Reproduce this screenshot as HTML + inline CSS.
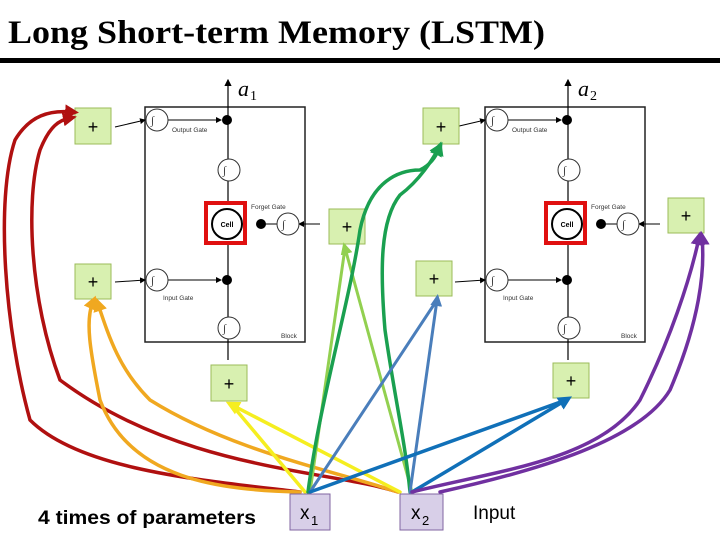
<!DOCTYPE html>
<html><head><meta charset="utf-8"><style>
body{margin:0;background:#fff}
svg{display:block}
</style></head><body>
<svg width="720" height="540" viewBox="0 0 720 540" xmlns="http://www.w3.org/2000/svg">
<defs>
<marker id="ah" markerWidth="6" markerHeight="6" refX="5" refY="3" orient="auto"><path d="M0,0 L6,3 L0,6 z" fill="#000"/></marker>
<marker id="mr" markerWidth="4" markerHeight="4" refX="2" refY="2" orient="auto"><path d="M0,0 L4,2 L0,4 z" fill="#b01010"/></marker>
<marker id="mo" markerWidth="4" markerHeight="4" refX="2" refY="2" orient="auto"><path d="M0,0 L4,2 L0,4 z" fill="#f0a820"/></marker>
<marker id="my" markerWidth="4" markerHeight="4" refX="2" refY="2" orient="auto"><path d="M0,0 L4,2 L0,4 z" fill="#f5ee20"/></marker>
<marker id="mg" markerWidth="4" markerHeight="4" refX="2" refY="2" orient="auto"><path d="M0,0 L4,2 L0,4 z" fill="#1aa050"/></marker>
<marker id="mb" markerWidth="4" markerHeight="4" refX="2" refY="2" orient="auto"><path d="M0,0 L4,2 L0,4 z" fill="#1070b8"/></marker>
<marker id="ms" markerWidth="4" markerHeight="4" refX="2" refY="2" orient="auto"><path d="M0,0 L4,2 L0,4 z" fill="#4a7ebb"/></marker>
<marker id="ml" markerWidth="4" markerHeight="4" refX="2" refY="2" orient="auto"><path d="M0,0 L4,2 L0,4 z" fill="#92d050"/></marker>
<marker id="mp" markerWidth="4" markerHeight="4" refX="2" refY="2" orient="auto"><path d="M0,0 L4,2 L0,4 z" fill="#7030a0"/></marker>
<g id="blk">
  <rect x="145" y="107" width="160" height="235" fill="#fff" stroke="#222" stroke-width="1.5"/>
  <line x1="228" y1="360" x2="228" y2="80" stroke="#000" stroke-width="1.2" marker-end="url(#ah)"/>
  <line x1="168" y1="120" x2="221" y2="120" stroke="#000" stroke-width="1" marker-end="url(#ah)"/>
  <line x1="168" y1="280" x2="221" y2="280" stroke="#000" stroke-width="1" marker-end="url(#ah)"/>
  <line x1="115" y1="127" x2="145" y2="120" stroke="#000" stroke-width="1" marker-end="url(#ah)"/>
  <line x1="115" y1="282" x2="145" y2="280" stroke="#000" stroke-width="1" marker-end="url(#ah)"/>
  <line x1="320" y1="224" x2="299" y2="224" stroke="#000" stroke-width="1" marker-end="url(#ah)"/>
  <line x1="277" y1="224" x2="265" y2="224" stroke="#000" stroke-width="1"/>
  <circle cx="157" cy="120" r="11" fill="#fff" stroke="#333"/>
  <circle cx="157" cy="280" r="11" fill="#fff" stroke="#333"/>
  <circle cx="229" cy="170" r="11" fill="#fff" stroke="#333"/>
  <circle cx="229" cy="328" r="11" fill="#fff" stroke="#333"/>
  <circle cx="288" cy="224" r="11" fill="#fff" stroke="#333"/>
  <circle cx="227" cy="120" r="5" fill="#000"/>
  <circle cx="227" cy="280" r="5" fill="#000"/>
  <circle cx="261" cy="224" r="5" fill="#000"/>
  <rect x="206" y="203" width="39" height="40" fill="#fff" stroke="#e01010" stroke-width="4"/>
  <circle cx="227" cy="224" r="15" fill="#fff" stroke="#000" stroke-width="2"/>
  <text x="227" y="227" font-family="Liberation Sans,sans-serif" font-size="7" font-weight="bold" text-anchor="middle">Cell</text>
  <text x="172" y="132" font-family="Liberation Sans,sans-serif" font-size="6.5" fill="#333">Output Gate</text>
  <text x="163" y="300" font-family="Liberation Sans,sans-serif" font-size="6.5" fill="#333">Input Gate</text>
  <text x="251" y="209" font-family="Liberation Sans,sans-serif" font-size="6.5" fill="#333">Forget Gate</text>
  <text x="281" y="338" font-family="Liberation Sans,sans-serif" font-size="6.5" fill="#333">Block</text>
  <g font-family="Liberation Serif,serif" font-style="italic" font-size="11" fill="#333">
    <text x="151" y="124">∫</text><text x="151" y="284">∫</text><text x="223" y="174">∫</text><text x="223" y="332">∫</text><text x="282" y="228">∫</text>
  </g>
</g>
</defs>
<text x="8" y="43" font-family="Liberation Serif,serif" font-weight="bold" font-size="33" textLength="537" lengthAdjust="spacingAndGlyphs">Long Short-term Memory (LSTM)</text>
<rect x="0" y="58" width="720" height="5" fill="#000"/>
<use href="#blk"/>
<use href="#blk" transform="translate(340,0)"/>
<text x="238" y="96" font-family="Liberation Serif,serif" font-style="italic" font-size="22">a</text><text x="250" y="100" font-family="Liberation Serif,serif" font-size="14">1</text>
<text x="578" y="96" font-family="Liberation Serif,serif" font-style="italic" font-size="22">a</text><text x="590" y="100" font-family="Liberation Serif,serif" font-size="14">2</text>
<g fill="#d8f0b0" stroke="#9bbb59" stroke-width="1">
<rect x="75" y="108" width="36" height="36"/><rect x="423" y="108" width="36" height="36"/>
<rect x="329" y="209" width="36" height="35"/><rect x="668" y="198" width="36" height="35"/>
<rect x="75" y="264" width="36" height="35"/><rect x="416" y="261" width="36" height="35"/>
<rect x="211" y="365" width="36" height="36"/><rect x="553" y="363" width="36" height="35"/>
</g>
<g font-family="Liberation Sans,sans-serif" font-size="18" text-anchor="middle">
<text x="93" y="133">+</text><text x="441" y="133">+</text><text x="347" y="233">+</text><text x="686" y="222">+</text>
<text x="93" y="288">+</text><text x="434" y="285">+</text><text x="229" y="390">+</text><text x="571" y="387">+</text>
</g>
<g fill="none" stroke-width="3.5" stroke-linecap="round">
<path d="M300,492 C200,480 80,470 30,420 C5,330 -5,200 15,140 C30,115 50,110 72,112" stroke="#b01010" marker-end="url(#mr)"/>
<path d="M398,492 C330,470 180,470 60,380 C30,300 25,200 40,150 C50,125 60,120 70,118" stroke="#b01010" marker-end="url(#mr)"/>
<path d="M300,492 C220,490 130,480 100,400 C90,350 85,320 93,302" stroke="#f0a820" marker-end="url(#mo)"/>
<path d="M398,492 C330,470 230,450 150,400 C120,370 110,340 98,304" stroke="#f0a820" marker-end="url(#mo)"/>
<path d="M305,492 L232,405 M400,492 L232,405" stroke="#f5ee20" marker-end="url(#my)"/>
<path d="M310,492 L345,248 M412,492 L345,248" stroke="#92d050" stroke-width="3" marker-end="url(#ml)"/>
<path d="M308,492 C320,400 350,300 360,230 C370,180 400,170 420,170 C430,165 436,157 439,148" stroke="#1aa050" marker-end="url(#mg)"/>
<path d="M410,492 C405,440 395,400 385,330 C380,270 380,220 400,195 C420,180 432,160 439,148" stroke="#1aa050" marker-end="url(#mg)"/>
<path d="M310,492 L437,300 M410,492 L437,300" stroke="#4a7ebb" stroke-width="3" marker-end="url(#ms)"/>
<path d="M310,492 L566,400 M412,492 L566,400" stroke="#1070b8" marker-end="url(#mb)"/>
<path d="M412,492 C500,470 600,460 640,400 C670,340 690,280 699,238" stroke="#7030a0" marker-end="url(#mp)"/>
<path d="M440,492 C540,470 640,440 670,390 C700,320 705,270 702,238" stroke="#7030a0" marker-end="url(#mp)"/>
</g>
<rect x="290" y="494" width="40" height="36" fill="#d8cfe8" stroke="#8064a2"/>
<rect x="400" y="494" width="43" height="36" fill="#d8cfe8" stroke="#8064a2"/>
<text x="300" y="519" font-family="Liberation Sans,sans-serif" font-size="19">x</text><text x="311" y="525" font-family="Liberation Sans,sans-serif" font-size="13">1</text>
<text x="411" y="519" font-family="Liberation Sans,sans-serif" font-size="19">x</text><text x="422" y="525" font-family="Liberation Sans,sans-serif" font-size="13">2</text>
<text x="38" y="524" font-family="Liberation Sans,sans-serif" font-weight="bold" font-size="19" textLength="218" lengthAdjust="spacingAndGlyphs">4 times of parameters</text>
<text x="473" y="519" font-family="Liberation Sans,sans-serif" font-size="19">Input</text>
</svg>
</body></html>
